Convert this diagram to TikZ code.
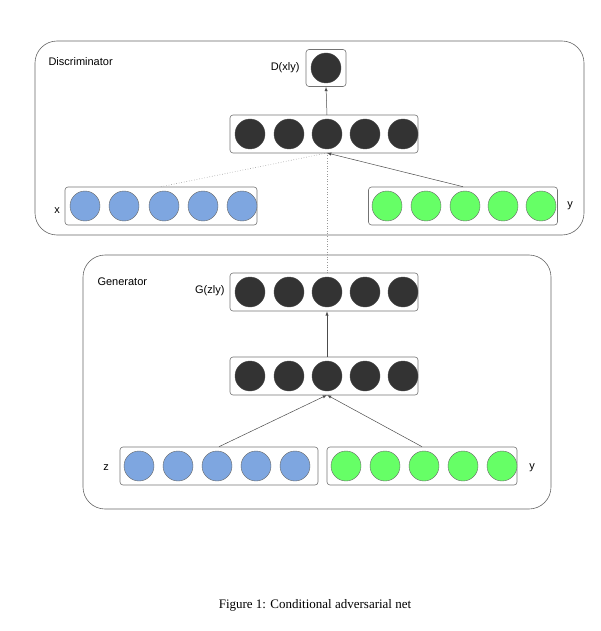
\documentclass[tikz,border=0pt]{standalone}
\usepackage{fontspec}
\setmainfont{Liberation Sans}
\newfontfamily\capfont{Liberation Serif}
\begin{document}
\begin{tikzpicture}[x=1pt,y=-1pt,
  big/.style={draw=black!60,rounded corners=22,line width=0.6pt},
  layer/.style={draw=black!55,rounded corners=3,line width=0.6pt},
  dk/.style={circle,draw=black!70,fill=black!80,minimum size=30pt,inner sep=0pt},
  bl/.style={circle,draw=black!60,fill={rgb,255:red,126;green,166;blue,224},minimum size=30pt,inner sep=0pt},
  gr/.style={circle,draw=black!60,fill={rgb,255:red,102;green,255;blue,102},minimum size=30pt,inner sep=0pt},
  lbl/.style={font=\fontsize{11}{13}\selectfont},
  arr/.style={->,>=latex,black!70,line width=0.5pt},
  dot/.style={black!40,dotted,line width=0.6pt}]
\useasboundingbox (0,0) rectangle (601,631);
\draw[big] (35,41) rectangle (584,235);
\node[lbl,anchor=west] (dl) at (45,62) {Discriminator};
\draw[big] (83,255) rectangle (551,509);
\node[lbl,anchor=west] (gl) at (94,282) {Generator};
% D output
\node[layer,minimum width=40pt,minimum height=37pt] (dbox) at (326,68) {};
\node[dk] (d0) at (326,68) {};
\node[lbl,anchor=east] (dlab) at (303,68) {D(xly)};
% layers
\node[layer,minimum width=188pt,minimum height=38pt] (dh) at (324,134) {};
\foreach \i/\x in {1/250,2/289,3/327,4/365,5/403} \node[dk] (dh\i) at (\x,134) {};
\node[layer,minimum width=192pt,minimum height=38pt] (xb) at (161,206) {};
\foreach \i/\x in {1/85,2/124,3/164,4/203,5/242} \node[bl] (x\i) at (\x,206) {};
\node[lbl] (xl) at (57,211) {x};
\node[layer,minimum width=189pt,minimum height=38pt] (yb) at (463,206) {};
\foreach \i/\x in {1/387,2/426,3/465,4/503,5/541} \node[gr] (y\i) at (\x,206) {};
\node[lbl] (yl) at (570,206) {y};
\node[layer,minimum width=188pt,minimum height=38pt] (gb) at (324,292) {};
\foreach \i/\x in {1/250,2/289,3/327,4/365,5/403} \node[dk] (g\i) at (\x,292) {};
\node[lbl,anchor=east] (glab) at (228,291) {G(zly)};
\node[layer,minimum width=188pt,minimum height=38pt] (gh) at (324,376) {};
\foreach \i/\x in {1/250,2/289,3/327,4/365,5/403} \node[dk] (gh\i) at (\x,376) {};
\node[layer,minimum width=198pt,minimum height=38pt] (zb) at (219,466) {};
\foreach \i/\x in {1/139,2/178,3/217,4/256,5/295} \node[bl] (z\i) at (\x,466) {};
\node[lbl] (zl) at (106,468) {z};
\node[layer,minimum width=190pt,minimum height=38pt] (yb2) at (422,466) {};
\foreach \i/\x in {1/346,2/385,3/424,4/463,5/502} \node[gr] (yy\i) at (\x,466) {};
\node[lbl] (yl2) at (532,468) {y};
% connectors
\coordinate (dhb) at (327,153);
\coordinate (ghb) at (327,395);
\draw[arr] (327,115) -- (dbox.south);
\draw[arr] (327,357) -- (gb.south -| 327,0);
\draw[dot] (xb.north) -- (dhb);
\draw[arr] (yb.north) -- (dhb);
\draw[dot] (327,273) -- (dhb);
\draw[arr] (zb.north) -- (ghb);
\draw[arr] (yb2.north) -- (ghb);
\node[font=\capfont\fontsize{13}{15}\selectfont] (cap) at (315,605) {Figure 1: Conditional adversarial net};
\end{tikzpicture}
\end{document}
